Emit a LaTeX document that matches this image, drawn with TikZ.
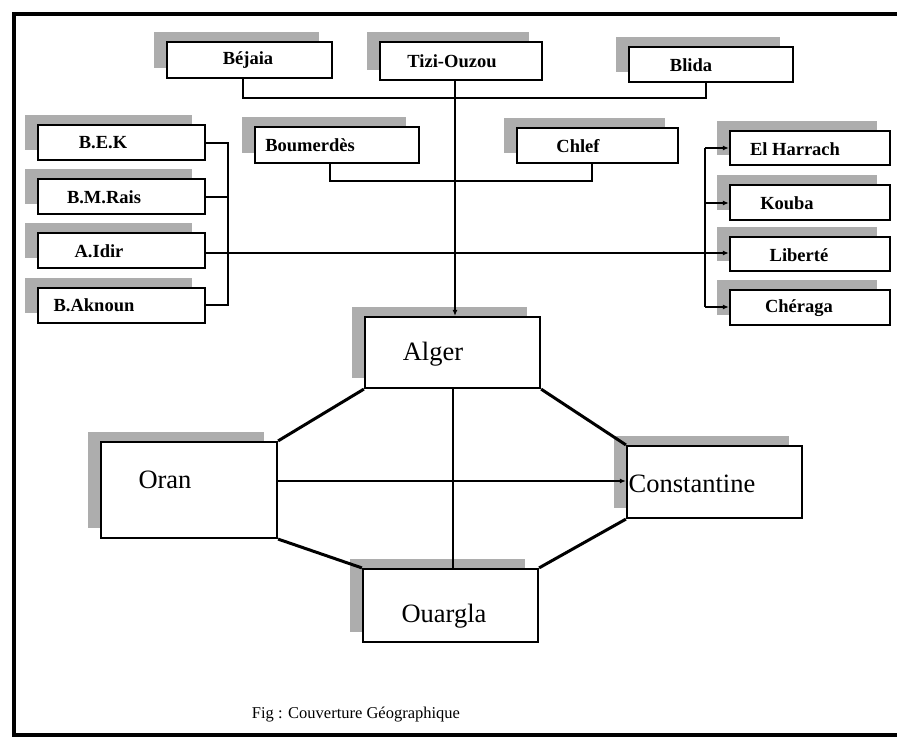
\documentclass[tikz,border=0pt]{standalone}
\usepackage{fontspec}
\setmainfont{Liberation Serif}
\usetikzlibrary{arrows.meta}
\newcommand\cbox[6][boxst]{%
  \fill[shadowfill] ({#3-13},{#4-10}) rectangle ({#5-13},{#6-10});
  \node[#1, minimum width={#5-#3}, minimum height={#6-#4}] (#2) at ({(#3+#5)/2},{(#4+#6)/2}) {};
}
\begin{document}
\begin{tikzpicture}[x=1pt,y=-1pt,
  shadowfill/.style={fill=black!32},
  boxst/.style={draw, line width=2.4pt, fill=white, inner sep=0pt},
  bigbox/.style={draw, line width=2.2pt, fill=white, inner sep=0pt},
  lbl/.style={font=\bfseries\fontsize{18.5}{18.5}\selectfont, inner sep=0pt},
  biglbl/.style={font=\fontsize{26.5}{26.5}\selectfont, inner sep=0pt},
  conn/.style={line width=2pt},
  oct/.style={line width=3pt},
  tip/.style={-{Latex[length=6pt,width=5pt]}},
  frame/.style={line width=4pt}]
\useasboundingbox (0,0) rectangle (897,741);
\fill[white] (0,0) rectangle (897,741);
% frame
\coordinate (ftr) at (905,14);
\coordinate (ftl) at (14,14);
\coordinate (fbl) at (14,735);
\coordinate (fbr) at (905,735);
\draw[frame] (ftr) -- (ftl) -- (fbl) -- (fbr);

% top row
\cbox{bej}{167}{42}{332}{78}
\cbox{tizi}{380}{42}{542}{80}
\cbox{bli}{629}{47}{793}{82}
% second row
\cbox{bou}{255}{127}{419}{163}
\cbox{chl}{517}{128}{678}{163}
% left column
\cbox{bek}{38}{125}{205}{160}
\cbox{bmr}{38}{179}{205}{214}
\cbox{aid}{38}{233}{205}{268}
\cbox{bak}{38}{288}{205}{323}
% right column
\cbox{elh}{730}{131}{890}{165}
\cbox{kou}{730}{185}{890}{220}
\cbox{lib}{730}{237}{890}{271}
\cbox{che}{730}{290}{890}{325}
% big boxes
\cbox[bigbox]{alg}{365}{317}{540}{388}
\cbox[bigbox]{ora}{101}{442}{277}{538}
\cbox[bigbox]{con}{627}{446}{802}{518}
\cbox[bigbox]{oua}{363}{569}{538}{642}

% labels
\node[lbl] (bejt) at (248,60) {Béjaia};
\node[lbl] (tizit) at (452,61) {Tizi-Ouzou};
\node[lbl] (blit) at (691,65) {Blida};
\node[lbl] (bout) at (310,145) {Boumerdès};
\node[lbl] (chlt) at (578,146) {Chlef};
\node[lbl] (bekt) at (103,143) {B.E.K};
\node[lbl] (bmrt) at (104,197) {B.M.Rais};
\node[lbl] (aidt) at (99,251) {A.Idir};
\node[lbl] (bakt) at (94,305) {B.Aknoun};
\node[lbl] (elht) at (795,149) {El Harrach};
\node[lbl] (kout) at (787,203) {Kouba};
\node[lbl] (libt) at (799,255) {Liberté};
\node[lbl] (chet) at (799,308) {Chéraga};
\node[biglbl] (algt) at (433,354) {Alger};
\node[biglbl] (orat) at (165,480) {Oran};
\node[biglbl] (cont) at (692,484) {Constantine};
\node[biglbl] (ouat) at (444,616) {Ouargla};
\node[font=\fontsize{16.5}{16.5}\selectfont, inner sep=0pt] (cap) at (356,715) {Fig : Couverture Géographique};

% top connectors
\draw[conn] (243,0 |- bej.south) -- (243,98) -| (706,0 |- bli.south);
\draw[conn, tip] (455,0 |- tizi.south) -- (455,0 |- alg.north);
\draw[conn] (330,0 |- bou.south) -- (330,181) -| (592,0 |- chl.south);

% left bus
\coordinate (lb1) at (228,143);
\coordinate (lb4) at (228,305);
\draw[conn] (bek.east |- lb1) -- (lb1) -- (lb4) -- (bak.east |- lb4);
\draw[conn] (bmr.east |- 0,197) -- (228,197);
% A.Idir to Liberte
\draw[conn, tip] (aid.east |- 0,253) -- (lib.west |- 0,253);
% right bus
\coordinate (rb1) at (705,148);
\coordinate (rb4) at (705,307);
\draw[conn] (rb1) -- (rb4);
\draw[conn, tip] (rb1) -- (elh.west |- rb1);
\draw[conn, tip] (705,203) -- (kou.west |- 0,203);
\draw[conn, tip] (rb4) -- (che.west |- rb4);

% octagon
\draw[oct] (alg.south west) -- (ora.north east);
\draw[oct] (alg.south east) -- (con.north west);
\draw[oct] (ora.south east) -- (oua.north west);
\draw[oct] (con.south west) -- (oua.north east);
\draw[conn] (453,0 |- alg.south) -- (453,0 |- oua.north);
\draw[conn, tip] (ora.east |- 0,481) -- (con.west |- 0,481);
\end{tikzpicture}
\end{document}
